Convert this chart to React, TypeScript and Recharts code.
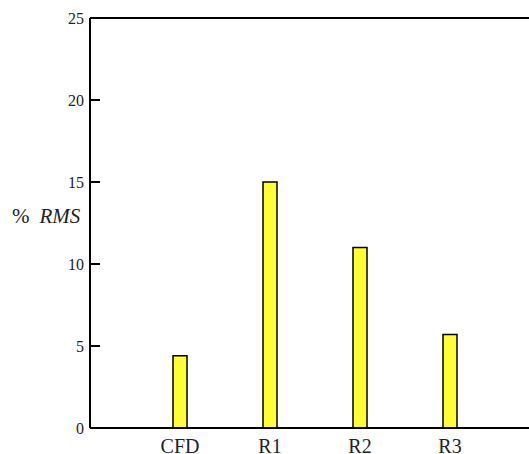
import { Bar, BarChart, Label, ReferenceLine, XAxis, YAxis } from 'recharts';

// RMS error per case, in percent
const cases = ['CFD', 'R1', 'R2', 'R3'];
const rmsPercent = [4.4, 15.0, 11.0, 5.7];
const yTicks = [0, 5, 10, 15, 20, 25];

const data = cases.map((name, i) => ({ name, rms: rmsPercent[i] }));

const SERIF = '"Liberation Serif", "DejaVu Serif", serif';

function RmsLabel(props: any) {
    const vb = props.viewBox || {};
    const cy = vb.y + vb.height / 2 - 5;
    return (
        <text x={12} y={cy} fontFamily={SERIF} fontSize={21} fill="#222" dominantBaseline="middle">
            <tspan>%</tspan>
            <tspan dx={10} fontStyle="italic">RMS</tspan>
        </text>
    );
}

export default function App() {
    return (
        <div style={{ position: 'absolute', left: 0, top: 0, width: 529, height: 454, overflow: 'hidden', background: '#fff' }}>
            <BarChart
                width={560}
                height={454}
                data={data}
                margin={{ top: 18, right: 20, bottom: 0, left: 0 }}
                style={{ fontFamily: SERIF }}
            >
                <XAxis
                    dataKey="name"
                    padding={{ left: 45, right: 45 }}
                    height={26}
                    axisLine={{ stroke: '#000', strokeWidth: 2 }}
                    tickLine={false}
                    tickSize={0}
                    tickMargin={11}
                    tick={{ fill: '#222', fontSize: 20, fontFamily: SERIF }}
                />
                <YAxis
                    width={90}
                    domain={[0, 25]}
                    ticks={yTicks}
                    interval={0}
                    axisLine={{ stroke: '#000', strokeWidth: 2 }}
                    tickLine={{ stroke: '#000', strokeWidth: 2 }}
                    tickSize={-10}
                    tickMargin={16}
                    tick={{ fill: '#222', fontSize: 16, fontFamily: SERIF }}
                >
                    <Label content={RmsLabel} />
                </YAxis>
                <ReferenceLine y={25} stroke="#000" strokeWidth={2} ifOverflow="visible" />
                <Bar
                    dataKey="rms"
                    barSize={14}
                    fill="#ffff33"
                    stroke="#000"
                    strokeWidth={1.5}
                    isAnimationActive={false}
                />
            </BarChart>
        </div>
    );
}
